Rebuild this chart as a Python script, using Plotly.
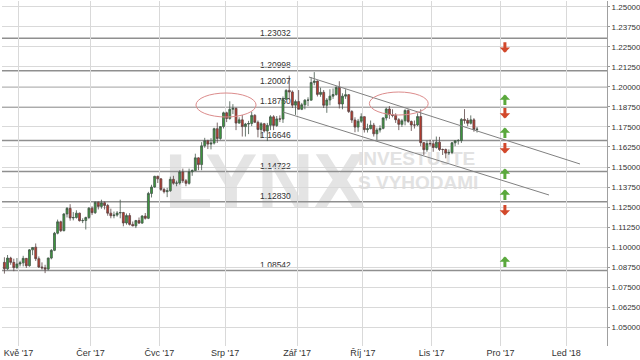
import pandas as pd
import plotly.graph_objects as go

# ---------------- data (EUR/USD daily) ----------------
dates = pd.bdate_range("2017-04-24", "2017-11-21")

opens = [
    # Apr 24-28
    1.0905, 1.0865, 1.0932, 1.0905, 1.0872,
    # May
    1.0895, 1.0902, 1.0930, 1.0884, 1.0983, 1.1000, 1.0928, 1.0876, 1.0871, 1.0863,
    1.0932, 1.0980, 1.1087, 1.1158, 1.1103, 1.1207, 1.1242, 1.1182, 1.1185, 1.1212,
    1.1165, 1.1166, 1.1185,
    # Jun
    1.1243, 1.1215, 1.1280, 1.1254, 1.1277, 1.1260, 1.1212, 1.1196, 1.1200, 1.1213,
    1.1216, 1.1151, 1.1197, 1.1142, 1.1133, 1.1166, 1.1150, 1.1194, 1.1180, 1.1335,
    1.1375, 1.1442,
    # Jul
    1.1426, 1.1360, 1.1346, 1.1352, 1.1423, 1.1399, 1.1400, 1.1469, 1.1414, 1.1398,
    1.1470, 1.1478, 1.1557, 1.1515, 1.1632, 1.1664, 1.1643, 1.1649, 1.1739, 1.1678,
    1.1752,
    # Aug
    1.1838, 1.1803, 1.1860, 1.1866, 1.1774, 1.1794, 1.1752, 1.1768, 1.1771, 1.1822,
    1.1779, 1.1734, 1.1770, 1.1725, 1.1760, 1.1813, 1.1759, 1.1800, 1.1799, 1.1922,
    1.1978, 1.1968, 1.1886,
    # Sep
    1.1908, 1.1860, 1.1888, 1.1917, 1.1917, 1.2027, 1.2036, 1.1953, 1.1966, 1.1885,
    1.1918, 1.1942, 1.1952, 1.1996, 1.1893, 1.1942, 1.1951, 1.1846, 1.1793, 1.1749,
    1.1786,
    # Oct
    1.1814, 1.1733, 1.1739, 1.1761, 1.1707, 1.1731, 1.1741, 1.1806, 1.1862, 1.1826,
    1.1822, 1.1795, 1.1766, 1.1788, 1.1853, 1.1784, 1.1762, 1.1762, 1.1815, 1.1652,
    1.1608, 1.1647,
    # Nov
    1.1645, 1.1622, 1.1655, 1.1609, 1.1609, 1.1587, 1.1591, 1.1651, 1.1664, 1.1665,
    1.1797, 1.1791, 1.1773, 1.1794, 1.1734,
]

highs = [
    1.0937, 1.0951, 1.0940, 1.0928, 1.0932,
    1.0915, 1.0946, 1.0932, 1.0988, 1.1000, 1.1023, 1.0942, 1.0905, 1.0890, 1.0935,
    1.0988, 1.1095, 1.1172, 1.1165, 1.1212, 1.1250, 1.1268, 1.1219, 1.1230, 1.1215,
    1.1180, 1.1190, 1.1250,
    1.1255, 1.1285, 1.1285, 1.1296, 1.1285, 1.1270, 1.1240, 1.1222, 1.1225, 1.1296,
    1.1220, 1.1210, 1.1212, 1.1160, 1.1170, 1.1185, 1.1200, 1.1213, 1.1345, 1.1389,
    1.1445, 1.1446,
    1.1430, 1.1370, 1.1370, 1.1440, 1.1445, 1.1415, 1.1480, 1.1490, 1.1425, 1.1490,
    1.1485, 1.1583, 1.1560, 1.1655, 1.1682, 1.1670, 1.1680, 1.1745, 1.1777, 1.1755,
    1.1845,
    1.1845, 1.1910, 1.1892, 1.1870, 1.1810, 1.1825, 1.1775, 1.1788, 1.1845, 1.1830,
    1.1790, 1.1780, 1.1775, 1.1775, 1.1823, 1.1823, 1.1818, 1.1822, 1.1940, 1.1985,
    1.2070, 1.1978, 1.1920,
    1.1980, 1.1900, 1.1923, 1.1935, 1.2060, 1.2092, 1.2040, 1.1995, 1.1980, 1.1930,
    1.1985, 1.1990, 1.2005, 1.2035, 1.1960, 1.1985, 1.1955, 1.1855, 1.1810, 1.1800,
    1.1835,
    1.1815, 1.1770, 1.1790, 1.1775, 1.1745, 1.1760, 1.1810, 1.1870, 1.1880, 1.1860,
    1.1835, 1.1805, 1.1800, 1.1860, 1.1860, 1.1790, 1.1790, 1.1835, 1.1860, 1.1655,
    1.1665, 1.1670,
    1.1665, 1.1690, 1.1688, 1.1615, 1.1615, 1.1610, 1.1656, 1.1666, 1.1674, 1.1805,
    1.1861, 1.1805, 1.1822, 1.1805, 1.1750,
]

lows = [
    1.0835, 1.0858, 1.0890, 1.0850, 1.0865,
    1.0880, 1.0880, 1.0870, 1.0878, 1.0950, 1.0914, 1.0870, 1.0860, 1.0838, 1.0855,
    1.0924, 1.0975, 1.1080, 1.1094, 1.1098, 1.1185, 1.1165, 1.1167, 1.1178, 1.1160,
    1.1150, 1.1110, 1.1175,
    1.1200, 1.1207, 1.1235, 1.1240, 1.1235, 1.1196, 1.1180, 1.1180, 1.1190, 1.1180,
    1.1130, 1.1140, 1.1135, 1.1130, 1.1119, 1.1145, 1.1145, 1.1172, 1.1175, 1.1310,
    1.1370, 1.1400,
    1.1350, 1.1335, 1.1312, 1.1345, 1.1390, 1.1380, 1.1390, 1.1400, 1.1380, 1.1390,
    1.1445, 1.1475, 1.1480, 1.1480, 1.1620, 1.1612, 1.1610, 1.1640, 1.1650, 1.1670,
    1.1740,
    1.1780, 1.1795, 1.1830, 1.1730, 1.1770, 1.1690, 1.1690, 1.1705, 1.1755, 1.1774,
    1.1685, 1.1680, 1.1715, 1.1662, 1.1730, 1.1730, 1.1750, 1.1780, 1.1775, 1.1922,
    1.1920, 1.1868, 1.1825,
    1.1860, 1.1855, 1.1860, 1.1880, 1.1915, 1.2010, 1.1940, 1.1938, 1.1868, 1.1838,
    1.1885, 1.1925, 1.1945, 1.1865, 1.1860, 1.1925, 1.1837, 1.1775, 1.1717, 1.1720,
    1.1775,
    1.1715, 1.1715, 1.1735, 1.1690, 1.1669, 1.1715, 1.1735, 1.1790, 1.1800, 1.1810,
    1.1775, 1.1730, 1.1750, 1.1760, 1.1775, 1.1725, 1.1740, 1.1755, 1.1630, 1.1574,
    1.1595, 1.1630,
    1.1595, 1.1615, 1.1600, 1.1575, 1.1554, 1.1575, 1.1580, 1.1630, 1.1640, 1.1650,
    1.1770, 1.1755, 1.1765, 1.1720, 1.1715,
]

closes = [
    1.0865, 1.0932, 1.0905, 1.0872, 1.0895,
    1.0902, 1.0930, 1.0884, 1.0983, 1.0998, 1.0928, 1.0876, 1.0871, 1.0863, 1.0932,
    1.0980, 1.1087, 1.1158, 1.1103, 1.1207, 1.1242, 1.1182, 1.1185, 1.1212, 1.1165,
    1.1166, 1.1185, 1.1243,
    1.1215, 1.1280, 1.1254, 1.1277, 1.1260, 1.1212, 1.1196, 1.1200, 1.1213, 1.1216,
    1.1151, 1.1197, 1.1142, 1.1133, 1.1166, 1.1150, 1.1194, 1.1180, 1.1335, 1.1375,
    1.1442, 1.1426,
    1.1360, 1.1346, 1.1352, 1.1423, 1.1399, 1.1400, 1.1469, 1.1414, 1.1398, 1.1470,
    1.1478, 1.1557, 1.1515, 1.1632, 1.1664, 1.1643, 1.1649, 1.1739, 1.1678, 1.1752,
    1.1838,
    1.1803, 1.1860, 1.1866, 1.1774, 1.1794, 1.1752, 1.1768, 1.1771, 1.1822, 1.1779,
    1.1734, 1.1770, 1.1725, 1.1760, 1.1813, 1.1759, 1.1800, 1.1799, 1.1922, 1.1978,
    1.1968, 1.1886, 1.1908,
    1.1860, 1.1888, 1.1917, 1.1917, 1.2027, 1.2036, 1.1953, 1.1966, 1.1885, 1.1918,
    1.1942, 1.1952, 1.1996, 1.1893, 1.1942, 1.1951, 1.1846, 1.1793, 1.1749, 1.1786,
    1.1814,
    1.1733, 1.1739, 1.1761, 1.1707, 1.1731, 1.1741, 1.1806, 1.1862, 1.1826, 1.1822,
    1.1795, 1.1766, 1.1788, 1.1853, 1.1784, 1.1762, 1.1762, 1.1815, 1.1652, 1.1608,
    1.1647, 1.1645,
    1.1622, 1.1655, 1.1609, 1.1609, 1.1587, 1.1591, 1.1651, 1.1664, 1.1665, 1.1797,
    1.1791, 1.1773, 1.1794, 1.1734, 1.1736,
]

month_starts = ["2017-05-01", "2017-06-01", "2017-07-01", "2017-08-01", "2017-09-01",
                "2017-10-01", "2017-11-01", "2017-12-01", "2018-01-01"]
month_labels = ["Kvě '17", "Čer '17", "Čvc '17", "Srp '17", "Zář '17",
                "Říj '17", "Lis '17", "Pro '17", "Led '18"]

# horizontal support / resistance levels
level_values = [1.23032, 1.20998, 1.20007, 1.18750, 1.16646, 1.14722, 1.12830, 1.08542]
level_label_pos = 82.1           # trading-day position of the level captions

# descending channel (trading-day position, price)
channel_x = [[92.8, 179.4], [84.5, 169.5]]
channel_y = [[1.20614, 1.15187], [1.18431, 1.13253]]

# highlighted double-top areas (trading-day position range, price range)
ellipse_x = [[56.7, 75.9], [112.1, 130.9]]
ellipse_y = [[1.18119, 1.19616], [1.18244, 1.19679]]

# signal arrows: tip price and direction
arrow_pos = 155.4
arrow_tips = [1.2213, 1.1952, 1.1802, 1.1746, 1.1584, 1.1491, 1.1360, 1.1198, 1.0942]
arrow_dirs = ["down", "up", "down", "up", "down", "up", "up", "down", "up"]

# ---------------- trading-day axis ----------------
axis_days = pd.bdate_range("2017-04-24", "2018-02-28")
origin = axis_days.get_loc(pd.Timestamp("2017-05-01"))
day_pos = {d: i - origin for i, d in enumerate(axis_days)}
x = [day_pos[d] + 0.5 for d in dates]
tickvals = [day_pos[axis_days[axis_days >= pd.Timestamp(m)][0]] for m in month_starts]

FONT = "Liberation Sans, Arial, sans-serif"
GREEN = "#3d9b3d"
RED = "#c23a2c"

fig = go.Figure()
fig.add_trace(go.Candlestick(
    x=x, open=opens, high=highs, low=lows, close=closes,
    increasing=dict(fillcolor=GREEN, line=dict(color="#44574a", width=0.8)),
    decreasing=dict(fillcolor=RED, line=dict(color="#5a4444", width=0.8)),
    whiskerwidth=0, showlegend=False, hoverinfo="skip",
))

shapes = []
# watermark
shapes.append(dict(type="rect", xref="paper", yref="paper", x0=0.30, x1=0.57, y0=0.40, y1=0.60,
                   line=dict(width=0), fillcolor="rgba(0,0,0,0)", layer="below",
                   label=dict(text="LYNX", textposition="middle center", padding=0,
                              font=dict(family=FONT, size=78, color="#e4e4e4", weight="bold"))))
for txt, yc in [("INVESTUJTE", 0.5493), ("S VYHODAMI", 0.4797)]:
    shapes.append(dict(type="rect", xref="paper", yref="paper", x0=0.5835, x1=0.95,
                       y0=yc - 0.03, y1=yc + 0.03, line=dict(width=0),
                       fillcolor="rgba(0,0,0,0)", layer="below",
                       label=dict(text=txt, textposition="middle left", padding=0,
                                  font=dict(family=FONT, size=19, color="#e2e2e2", weight="bold"))))
# levels
for v in level_values:
    shapes.append(dict(type="line", xref="paper", yref="y", x0=0, x1=1, y0=v, y1=v,
                       line=dict(color="#8f8f8f", width=1.5), layer="below"))
    shapes.append(dict(type="line", xref="x", yref="y", x0=level_label_pos - 2,
                       x1=level_label_pos + 2, y0=v, y1=v,
                       line=dict(color="rgba(0,0,0,0)", width=0), layer="below",
                       label=dict(text=f"{v:.5f}", textposition="middle", yanchor="bottom",
                                  padding=1, font=dict(family=FONT, size=8.5, color="#333333"))))
# channel
for cx, cy in zip(channel_x, channel_y):
    shapes.append(dict(type="line", xref="x", yref="y", x0=cx[0], x1=cx[1], y0=cy[0], y1=cy[1],
                       line=dict(color="#808080", width=1)))
# ellipses
for ex, ey in zip(ellipse_x, ellipse_y):
    shapes.append(dict(type="circle", xref="x", yref="y", x0=ex[0], x1=ex[1], y0=ey[0], y1=ey[1],
                       line=dict(color="#dc8c8c", width=1)))

annotations = []
for tip, d in zip(arrow_tips, arrow_dirs):
    up = d == "up"
    annotations.append(dict(x=arrow_pos, y=tip, xref="x", yref="y", text="", showarrow=True,
                            ax=0, ay=12 if up else -12, arrowhead=1, arrowwidth=3,
                            arrowsize=0.58, arrowcolor="#5aa83c" if up else "#d2482b"))

fig.update_layout(
    width=640, height=360,
    margin=dict(l=2, r=33, t=1, b=14, autoexpand=False),
    paper_bgcolor="white", plot_bgcolor="white",
    shapes=shapes, annotations=annotations,
    boxgap=0.12,
    showlegend=False,
    font=dict(family=FONT, size=9, color="#333333"),
    xaxis=dict(range=[-5.27, 188.02], tickmode="array", tickvals=tickvals, ticktext=month_labels,
               showgrid=True, gridcolor="#d9d9d9", gridwidth=1, zeroline=False, ticks="",
               showline=False, rangeslider=dict(visible=False),
               tickfont=dict(family=FONT, size=9, color="#333333")),
    yaxis=dict(side="right", range=[1.03833, 1.25356], tick0=1.05, dtick=0.0125,
               tickformat=".5f", showgrid=True, gridcolor="#d9d9d9", gridwidth=1,
               zeroline=False, ticks="outside", ticklen=2, tickcolor="#999999",
               showline=True, linecolor="#a0a0a0", linewidth=1,
               tickfont=dict(family=FONT, size=8, color="#333333")),
)

fig.write_html("out.html")
